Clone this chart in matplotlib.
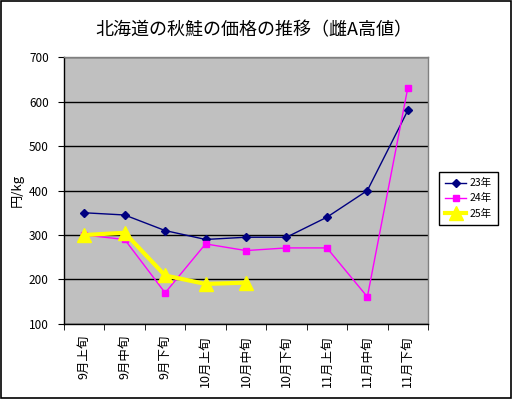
import numpy as np
import matplotlib
matplotlib.use('Agg')
import matplotlib.pyplot as plt
from matplotlib.patches import Rectangle

plt.rcParams['font.family'] = ['Noto Sans CJK JP', 'DejaVu Sans']

periods = ['9月上旬', '9月中旬', '9月下旬', '10月上旬', '10月中旬', '10月下旬',
           '11月上旬', '11月中旬', '11月下旬']
price_23 = [350, 345, 310, 290, 295, 295, 340, 400, 580]
price_24 = [300, 290, 170, 280, 265, 271, 271, 161, 631]
price_25 = [300, 305, 209, 190, 193]
y_ticks = [100, 200, 300, 400, 500, 600, 700]

fig = plt.figure(figsize=(5.12, 3.99), dpi=100, facecolor='white')
ax = fig.add_axes([0.125, 0.188, 0.711, 0.669])
ax.set_facecolor('#c0c0c0')
for sp in ax.spines.values():
    sp.set_edgecolor('#808080')
    sp.set_linewidth(1.0)
ax.spines['left'].set_edgecolor('black')
ax.spines['bottom'].set_edgecolor('black')

x = np.arange(len(periods))
ax.plot(x, price_23, color='#000080', linewidth=1.0, marker='D',
        markersize=4, label='23年', zorder=3)
ax.plot(x, price_24, color='#ff00ff', linewidth=1.0, marker='s',
        markersize=5, label='24年', zorder=3)
ax.plot(x[:len(price_25)], price_25, color='#ffff00', linewidth=3.0,
        marker='^', markersize=10, label='25年', zorder=4)

ax.set_xlim(-0.5, len(periods) - 0.5)
ax.set_ylim(100, 700)
ax.set_yticks(y_ticks)
ax.yaxis.grid(True, color='black', linewidth=1.0)
ax.set_axisbelow(True)
ax.tick_params(axis='y', labelsize=8.5, length=4, direction='out', pad=7)

ax.set_xticks(x)
ax.set_xticklabels(periods, rotation=90, fontsize=9)
ax.set_xticks(np.arange(-0.5, len(periods)), minor=True)
ax.tick_params(axis='x', which='major', length=0, pad=8)
ax.tick_params(axis='x', which='minor', length=4, direction='out')

ax.set_ylabel('円/kg', fontsize=9.5, labelpad=4)
fig.text(0.495, 0.925, '北海道の秋鮭の価格の推移（雌A高値）', ha='center',
         va='center', fontsize=13)

leg = ax.legend(loc='upper left', bbox_to_anchor=(1.03, 0.57), fontsize=7.5,
                frameon=True, fancybox=False, framealpha=1, edgecolor='black',
                handlelength=2.0, handletextpad=0.3, borderpad=0.6,
                labelspacing=0.5, borderaxespad=0)
leg.get_frame().set_linewidth(1.0)

fig.patches.append(Rectangle((0.002, 0.002), 0.996, 0.996, fill=False,
                             edgecolor='black', linewidth=1.2,
                             transform=fig.transFigure))

fig.savefig('out.png', dpi=100, facecolor='white')
